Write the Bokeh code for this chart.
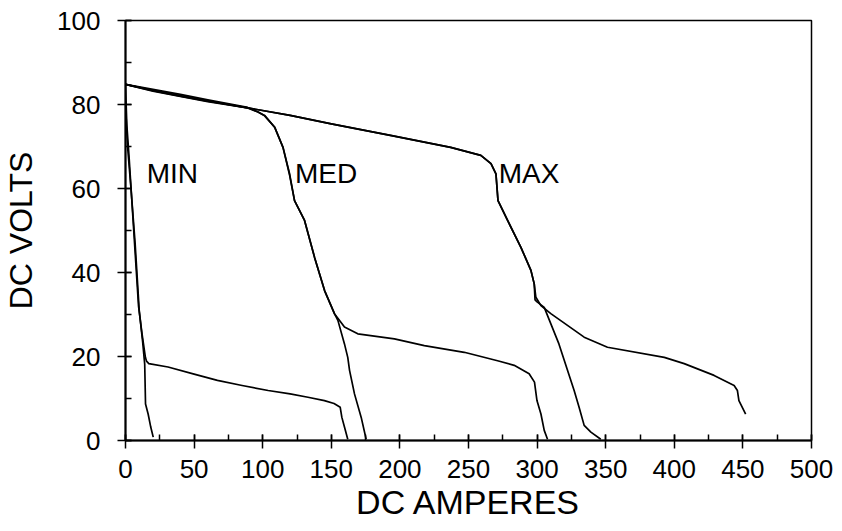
from bokeh.plotting import figure
from bokeh.models import SingleIntervalTicker
from bokeh.core.properties import value
from bokeh.embed import file_html
from bokeh.resources import INLINE

# ---- data ----
min_a_amps = [0, 1, 2.5, 6, 9.5, 12, 14.5, 15.3, 17, 31, 50, 67, 85, 104, 120, 133, 145, 152, 156.5, 157.7, 159.6, 162]
min_a_volts = [84.5, 75, 68, 50, 32, 25.5, 19.8, 18.9, 18.3, 17.5, 15.8, 14.3, 13.1, 11.9, 11.1, 10.3, 9.5, 8.8, 7.9, 5.5, 3.2, 0.3]

min_b_amps = [0, 1.5, 4, 7, 10, 12.5, 14, 14.6, 16.5, 18.4, 20.2]
min_b_volts = [80, 70, 60, 47, 31, 23.5, 18.2, 8.7, 6.3, 3.2, 0.8]

med_a_amps = [0, 20, 40, 60, 89, 96.6, 101.4, 108.7, 114.8, 119.6, 123.2, 130.5, 137.8, 145.1, 152.3, 159.6, 169.3, 196, 217.8, 246.9, 271.2, 283.3, 294.2, 298.1, 299.9, 302.8, 305.2, 307.6]
med_a_volts = [84.8, 83.2, 81.9, 80.7, 79.2, 78.2, 77.3, 74.6, 69.8, 63.5, 57.1, 52.4, 43.6, 35.7, 30.2, 27.0, 25.4, 24.2, 22.6, 21.0, 19.0, 17.9, 15.9, 13.9, 9.5, 6.3, 2.4, 0.3]

med_b_amps = [0, 20, 40, 60, 89, 96.6, 101.4, 108.7, 114.8, 119.6, 123.2, 130.5, 137.8, 145.1, 152.3, 154.8, 159.6, 162, 163.3, 166.9, 171.8, 175.4]
med_b_volts = [84.8, 83.6, 82.4, 81.1, 79.3, 78.2, 77.4, 74.6, 69.8, 63.2, 57.1, 52.4, 43.6, 35.7, 30.2, 28.6, 23.0, 19.8, 16.7, 11.1, 5.5, 0.3]

max_a_amps = [0, 20, 40, 60, 89, 120, 150, 194, 237, 259, 266.4, 270, 271.5, 278.5, 288.2, 295.5, 297.9, 299.1, 302.8, 310, 334.3, 351.3, 392.7, 407.2, 429, 443.6, 446, 447.1, 452]
max_a_volts = [84.8, 83.4, 82.1, 80.9, 79.2, 77.4, 75.4, 72.6, 69.8, 67.9, 65.9, 63.5, 57.1, 52.4, 46.0, 40.5, 37.3, 34.1, 32.1, 30.2, 24.6, 22.2, 19.8, 18.3, 15.5, 13.1, 11.9, 9.5, 6.3]

max_b_amps = [0, 20, 40, 60, 89, 120, 150, 194, 237, 259, 266.4, 270, 271.5, 278.5, 288.2, 295.5, 297.9, 298.5, 300, 305.2, 315.9, 327, 330.6, 334.3, 339.2, 346.4]
max_b_volts = [84.8, 83.3, 82.0, 80.8, 79.2, 77.4, 75.4, 72.6, 69.8, 67.9, 65.9, 63.5, 57.1, 52.4, 46.0, 40.5, 37.3, 33.5, 33.0, 31.7, 23.0, 11.9, 7.9, 3.6, 2.0, 0.3]

label_names = ["MIN", "MED", "MAX"]
label_amps = [15.5, 123.5, 272]
label_volts = [63.6, 63.6, 63.6]

x_ticks_interval = 50
y_ticks_interval = 20

# ---- figure ----
p = figure(width=842, height=531, x_range=(0, 500), y_range=(0, 100),
           output_backend="svg", toolbar_location=None,
           min_border_left=124, min_border_right=31, min_border_top=20, min_border_bottom=91)
p.background_fill_color = "white"
p.border_fill_color = "white"
p.outline_line_color = "black"
p.outline_line_width = 1.5
p.xgrid.visible = False
p.ygrid.visible = False

FONT = "Liberation Sans"

for ax, interval in ((p.xaxis[0], x_ticks_interval), (p.yaxis[0], y_ticks_interval)):
    ax.ticker = SingleIntervalTicker(interval=interval, num_minor_ticks=2)
    ax.axis_line_color = "black"
    ax.axis_line_width = 2
    ax.major_tick_line_color = "black"
    ax.major_tick_line_width = 1.5
    ax.minor_tick_line_color = "black"
    ax.minor_tick_line_width = 1.5
    ax.major_tick_in = 6
    ax.major_tick_out = 8
    ax.minor_tick_in = 6
    ax.minor_tick_out = 0
    ax.major_label_text_font = FONT
    ax.major_label_text_font_size = "26px"
    ax.major_label_text_color = "black"
    ax.axis_label_text_font = FONT
    ax.axis_label_text_font_style = "normal"
    ax.axis_label_text_color = "black"

p.xaxis.axis_label = "DC AMPERES"
p.yaxis.axis_label = "DC VOLTS"
p.xaxis.axis_label_text_font_size = "34px"
p.yaxis.axis_label_text_font_size = "32px"
p.xaxis.major_label_standoff = 11
p.xaxis.axis_label_standoff = 2
p.yaxis.major_label_standoff = 17
p.yaxis.axis_label_standoff = 15
p.yaxis.major_label_orientation = "horizontal"

series = [(min_a_amps, min_a_volts), (min_b_amps, min_b_volts),
          (med_a_amps, med_a_volts), (med_b_amps, med_b_volts),
          (max_a_amps, max_a_volts), (max_b_amps, max_b_volts)]
for xs, ys in series:
    p.line(xs, ys, line_color="black", line_width=1.7, line_join="round")

p.text(x=label_amps, y=label_volts, text=label_names,
       text_font=value(FONT), text_font_size=value("28px"),
       text_color="black", text_align="left", text_baseline="alphabetic")

open("out.html", "w").write(file_html(p, INLINE))
